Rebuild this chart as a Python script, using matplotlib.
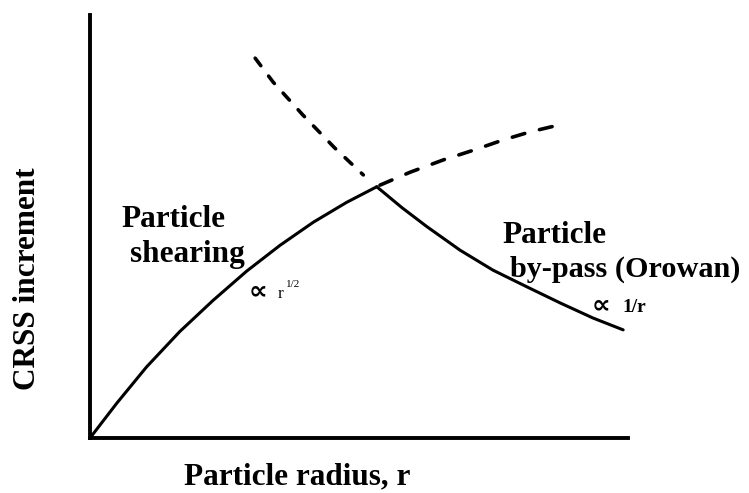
import matplotlib
matplotlib.use("Agg")
import matplotlib.pyplot as plt

# ---- data read from the schematic (r in arbitrary units, CRSS increment in arbitrary units)
shear_r = [0.00, 0.50, 1.05, 1.67, 2.29, 2.91, 3.53, 4.15, 4.77, 5.33]
shear_tau = [0.00, 0.65, 1.32, 1.98, 2.56, 3.10, 3.58, 4.01, 4.38, 4.67]

orowan_r = [5.33, 5.80, 6.26, 6.88, 7.49, 8.12, 8.74, 9.35, 9.91]
orowan_tau = [4.67, 4.28, 3.93, 3.49, 3.12, 2.81, 2.51, 2.23, 2.01]

orowan_ext_r = [3.07, 3.40, 3.96, 4.55, 5.08]
orowan_ext_tau = [7.06, 6.62, 6.00, 5.39, 4.89]

shear_ext_r = [5.39, 5.95, 6.57, 7.13, 7.68, 8.18, 8.85]
shear_ext_tau = [4.70, 4.94, 5.17, 5.35, 5.54, 5.69, 5.85]

x_label = "Particle radius, r"
y_label = "CRSS increment"

serif = ["Liberation Serif", "DejaVu Serif"]

fig = plt.figure(figsize=(7.49, 4.93), dpi=100)
ax = fig.add_axes([0, 0, 1, 1])
ax.set_xlim(-1.673, 12.249)
ax.set_ylim(-1.022, 8.141)

for s in ["top", "right"]:
    ax.spines[s].set_visible(False)
ax.spines["left"].set_position(("data", 0))
ax.spines["bottom"].set_position(("data", 0))
ax.spines["left"].set_bounds(0, 7.86)
ax.spines["bottom"].set_bounds(0, 10.0)
for s in ["left", "bottom"]:
    ax.spines[s].set_linewidth(2.8)
    ax.spines[s].set_color("black")
ax.set_xticks([])
ax.set_yticks([])
ax.patch.set_alpha(0)

ax.plot(shear_r, shear_tau, color="black", lw=2.2, solid_joinstyle="round",
        solid_capstyle="round")
ax.plot(orowan_r, orowan_tau, color="black", lw=2.2, solid_joinstyle="round",
        solid_capstyle="round")
ax.plot(orowan_ext_r, orowan_ext_tau, color="black", lw=2.6,
        dashes=(2.6, 3.6), dash_capstyle="round")
ax.plot(shear_ext_r, shear_ext_tau, color="black", lw=2.6,
        dashes=(3.6, 4.2), dash_capstyle="round")

fs = 22.5
ax.text(0.59, 3.93, "Particle", family=serif, weight="bold", fontsize=fs,
        ha="left", va="baseline")
ax.text(0.74, 3.27, "shearing", family=serif, weight="bold", fontsize=fs,
        ha="left", va="baseline")
ax.text(7.66, 3.62, "Particle", family=serif, weight="bold", fontsize=fs,
        ha="left", va="baseline")
ax.text(7.81, 2.99, "by-pass (Orowan)", family=serif, weight="bold", fontsize=21.8,
        ha="left", va="baseline")

ax.text(2.95, 2.60, "\u221d", family=["DejaVu Sans"], weight="bold", fontsize=19,
        ha="left", va="baseline")
ax.text(3.48, 2.60, "r", family=serif, fontsize=12.5, ha="left", va="baseline")
ax.text(3.64, 2.80, "1/2", family=serif, fontsize=8, ha="left", va="baseline")

ax.text(9.33, 2.34, "\u221d", family=["DejaVu Sans"], weight="bold", fontsize=19,
        ha="left", va="baseline")
ax.text(9.90, 2.34, "1/r", family=serif, weight="bold", fontsize=14,
        ha="left", va="baseline")

ax.text(1.75, -0.86, x_label, family=serif, weight="bold", fontsize=fs,
        ha="left", va="baseline")
ax.text(-1.17, 2.97, y_label, family=serif, weight="bold", fontsize=fs,
        ha="center", va="center", rotation=90)

fig.savefig("out.png", dpi=100)
